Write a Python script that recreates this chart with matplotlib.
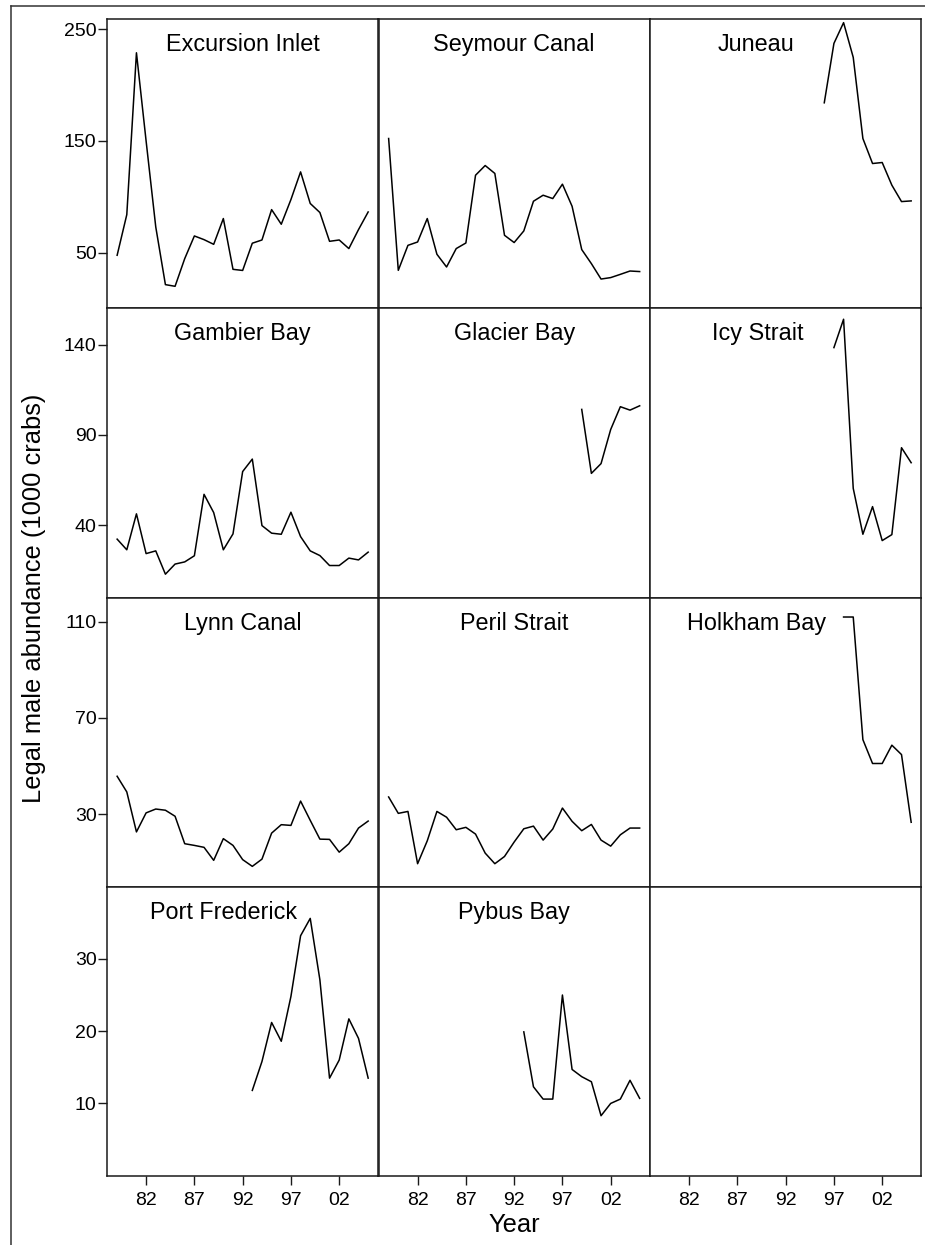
import matplotlib
matplotlib.use("Agg")
import matplotlib.pyplot as plt
from matplotlib.lines import Line2D

plt.rcParams['font.family'] = ['Liberation Sans', 'DejaVu Sans']

# ---------------- data ----------------
years_full = list(range(1979, 2006))

excursion_inlet = [47.6, 84, 229, 150, 73, 21.3, 19.8, 44.6, 64.9, 61.6, 57.4, 80.5, 35, 34,
                   58.4, 61.3, 88.5, 75.4, 97.5, 122.3, 94, 85.9, 60.1, 61.3, 53.6, 70.6, 86.4]
seymour_canal = [152.2, 34.1, 56.5, 59.5, 80.5, 48.5, 37.1, 53.6, 58.6, 119.3, 128, 120.9, 65.5, 59,
                 69.4, 96, 101.4, 98.4, 111.3, 91.5, 52.7, 40.1, 26.3, 27.6, 30.5, 33.5, 33]
juneau_years = list(range(1996, 2006))
juneau = [184.2, 237.4, 256, 224.9, 152.2, 129.8, 130.7, 110.4, 95.7, 96.3]

gambier_bay = [32.3, 26.4, 46.3, 24.3, 25.8, 12.9, 18.5, 19.7, 23.1, 57.1, 47, 26.4, 35.2, 69.7,
               76.6, 39.8, 35.6, 35, 47.2, 33.7, 25.8, 23.2, 17.7, 17.7, 21.8, 20.8, 25.1]
glacier_years = list(range(1999, 2006))
glacier_bay = [104.1, 68.7, 74.1, 93, 105.6, 103.7, 106.1]
icy_years = list(range(1997, 2006))
icy_strait = [138.3, 154, 60.4, 35, 50.3, 31.5, 34.8, 82.9, 74.6]

lynn_canal = [45.8, 39.3, 22.7, 30.6, 32.2, 31.7, 29.2, 17.8, 17.1, 16.3, 10.9, 19.9, 17.1, 11.2,
              8.4, 11.4, 22.2, 25.7, 25.4, 35.5, 27.5, 19.7, 19.6, 14.3, 17.8, 24.3, 27.2]
peril_strait = [37.2, 30.4, 31.2, 9.5, 19, 31.2, 28.8, 23.6, 24.6, 21.8, 13.9, 9.5, 12.5, 18.5,
                24, 25.1, 19.3, 23.9, 32.6, 27.1, 23.2, 25.8, 19.3, 16.8, 21.5, 24.3, 24.3]
holkham_years = list(range(1998, 2006))
holkham_bay = [111.9, 111.9, 61, 51.1, 51.1, 58.7, 54.8, 26.7]

frederick_years = list(range(1993, 2006))
port_frederick = [11.8, 15.8, 21.2, 18.6, 24.8, 33.2, 35.6, 27.1, 13.5, 16, 21.7, 19, 13.5]
pybus_years = list(range(1993, 2006))
pybus_bay = [19.9, 12.3, 10.6, 10.6, 25, 14.7, 13.7, 13, 8.3, 10, 10.6, 13.2, 10.7]

x_ticks = [1982, 1987, 1992, 1997, 2002]
x_ticklabels = ["82", "87", "92", "97", "02"]

row_yticks = [[50, 150, 250], [40, 90, 140], [30, 70, 110], [10, 20, 30]]
row_ylims = [(0, 259), (0, 160), (0, 120), (0, 40)]

panels = [
    [("Excursion Inlet", years_full, excursion_inlet, 1992),
     ("Seymour Canal", years_full, seymour_canal, 1992),
     ("Juneau", juneau_years, juneau, 1988.9)],
    [("Gambier Bay", years_full, gambier_bay, 1992),
     ("Glacier Bay", glacier_years, glacier_bay, 1992),
     ("Icy Strait", icy_years, icy_strait, 1989.1)],
    [("Lynn Canal", years_full, lynn_canal, 1992),
     ("Peril Strait", years_full, peril_strait, 1992),
     ("Holkham Bay", holkham_years, holkham_bay, 1989.0)],
    [("Port Frederick", frederick_years, port_frederick, 1990.0),
     ("Pybus Bay", pybus_years, pybus_bay, 1992),
     None],
]

# ---------------- layout ----------------
W, H = 925, 1245
fig = plt.figure(figsize=(W / 100, H / 100), dpi=100)

col_left = [107, 378.5, 650]
col_w = 271.3
row_top = [19.3, 308.4, 597.5, 886.6]
row_h = 289.1

spine_c = "#1a1a1a"
for r in range(4):
    for c in range(3):
        x0 = col_left[c] / W
        y0 = 1 - (row_top[r] + row_h) / H
        ax = fig.add_axes([x0, y0, col_w / W, row_h / H])
        ax.set_xlim(1977.95, 2006.05)
        ax.set_ylim(*row_ylims[r])
        for s in ax.spines.values():
            s.set_linewidth(1.1)
            s.set_color(spine_c)
        ax.tick_params(direction='out', length=6.5, width=1.0, color=spine_c,
                       labelsize=14, pad=1)
        ax.tick_params(axis='x', pad=5)
        ax.set_yticks(row_yticks[r])
        if c == 0:
            ax.set_yticklabels([str(v) for v in row_yticks[r]])
        else:
            ax.tick_params(axis='y', left=False, labelleft=False)
        ax.set_xticks(x_ticks)
        if r == 3:
            ax.set_xticklabels(x_ticklabels)
        else:
            ax.tick_params(axis='x', bottom=False, labelbottom=False)
        p = panels[r][c]
        if p is not None:
            name, yrs, vals, tx = p
            ax.plot(yrs, vals, color='black', lw=1.1)
            ax.text(tx, 0.889, name, transform=ax.get_xaxis_transform(),
                    ha='center', va='baseline', fontsize=16.8, color='black')

fig.text(34 / W, 1 - 598 / H, "Legal male abundance (1000 crabs)", rotation=90,
         ha='center', va='center', fontsize=18.4)
fig.text(514.5 / W, 1 - 1225 / H, "Year", ha='center', va='center', fontsize=18.4)

# outer frame (top and left edges)
fig.add_artist(Line2D([11 / W, 1], [1 - 6 / H, 1 - 6 / H], transform=fig.transFigure,
                      color="#333333", lw=1.1))
fig.add_artist(Line2D([11 / W, 11 / W], [0, 1 - 6 / H], transform=fig.transFigure,
                      color="#333333", lw=1.1))

fig.savefig("out.png", dpi=100, facecolor='white')
